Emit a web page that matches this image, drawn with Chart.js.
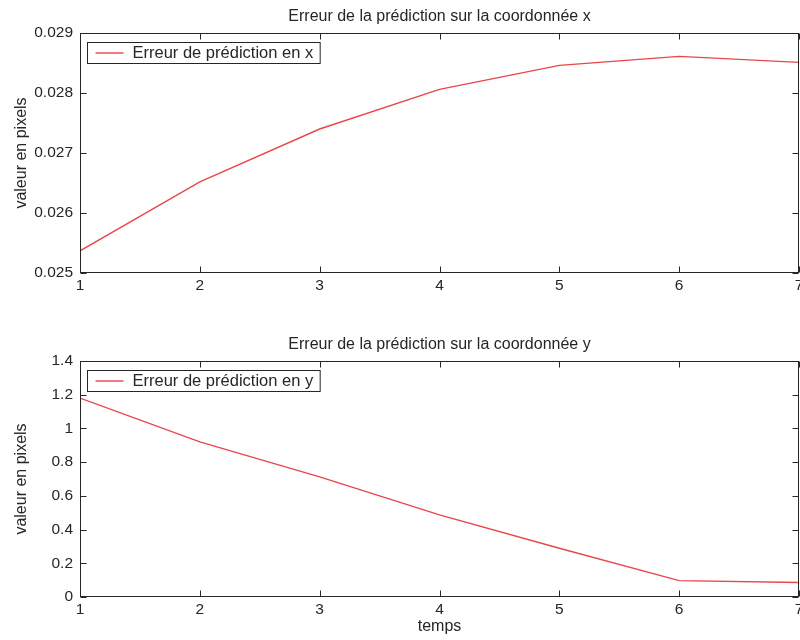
<!DOCTYPE html>
<html>
<head>
<meta charset="utf-8">
<script src="https://cdn.jsdelivr.net/npm/chart.js@4/dist/chart.umd.min.js"></script>
<style>
  html, body { margin: 0; padding: 0; background: #fff; width: 800px; height: 640px; overflow: hidden; }
  .panel { position: absolute; left: 0; width: 822px; }
  #top { top: 0; height: 300px; }
  #bottom { top: 300px; height: 340px; }
</style>
</head>
<body>
<div class="panel" id="top"><canvas id="cx"></canvas></div>
<div class="panel" id="bottom"><canvas id="cy"></canvas></div>
<script>
// Time steps and prediction errors (pixels)
const temps = [1, 2, 3, 4, 5, 6, 7];
const erreurX = [0.02537, 0.02652, 0.02740, 0.02806, 0.02846, 0.02861, 0.02851];
const erreurY = [1.18, 0.92, 0.713, 0.487, 0.289, 0.097, 0.086];

// Axis tick values
const ticksTemps = [1, 2, 3, 4, 5, 6, 7];
const ticksX = [0.025, 0.026, 0.027, 0.028, 0.029];
const ticksY = [0, 0.2, 0.4, 0.6, 0.8, 1, 1.2, 1.4];

const titreX = 'Erreur de la prédiction sur la coordonnée x';
const titreY = 'Erreur de la prédiction sur la coordonnée y';
const legendeX = 'Erreur de prédiction en x';
const legendeY = 'Erreur de prédiction en y';

const FONT = '"Liberation Sans", Arial, Helvetica, sans-serif';
const INK = '#262626';
const RED = '#e8464c';

// Box frame with inward ticks on all four sides, title and in-axes legend
const matlabFrame = {
  id: 'matlabFrame',
  afterDatasetsDraw(chart, args, opts) {
    const { ctx, chartArea: a, scales: { x, y } } = chart;
    ctx.save();
    ctx.strokeStyle = INK;
    ctx.lineWidth = 1;
    const L = Math.round(a.left) + 0.5, R = Math.round(a.right) - 0.5;
    const T = Math.round(a.top) + 0.5, B = Math.round(a.bottom) - 0.5;
    ctx.strokeRect(L, T, R - L, B - T);
    const tl = 6;
    ctx.beginPath();
    x.ticks.forEach(t => {
      const px = Math.round(x.getPixelForValue(t.value)) + 0.5;
      ctx.moveTo(px, B); ctx.lineTo(px, B - tl);
      ctx.moveTo(px, T); ctx.lineTo(px, T + tl);
    });
    y.ticks.forEach(t => {
      const py = Math.round(y.getPixelForValue(t.value)) + 0.5;
      ctx.moveTo(L, py); ctx.lineTo(L + tl, py);
      ctx.moveTo(R, py); ctx.lineTo(R - tl, py);
    });
    ctx.stroke();

    // title above the axes
    ctx.fillStyle = INK;
    ctx.font = '16px ' + FONT;
    ctx.textAlign = 'center';
    ctx.textBaseline = 'middle';
    ctx.fillText(opts.title, (a.left + a.right) / 2, a.top - 16);

    // legend box in the upper-left corner
    const ds = chart.data.datasets[0];
    ctx.font = '16.5px ' + FONT;
    const tw = ctx.measureText(ds.label).width;
    const bx = a.left + 7.5, by = a.top + 9.5;
    const bw = 45 + tw + 7, bh = 21;
    ctx.fillStyle = '#fff';
    ctx.fillRect(bx, by, bw, bh);
    ctx.strokeStyle = INK;
    ctx.strokeRect(bx, by, bw, bh);
    ctx.strokeStyle = ds.borderColor;
    ctx.lineWidth = ds.borderWidth;
    ctx.beginPath();
    ctx.moveTo(bx + 8, by + bh / 2);
    ctx.lineTo(bx + 36, by + bh / 2);
    ctx.stroke();
    ctx.fillStyle = INK;
    ctx.textAlign = 'left';
    ctx.fillText(ds.label, bx + 45, by + bh / 2 + 0.5);
    ctx.restore();
  }
};

function fmt(v) { return String(+v.toFixed(4)); }

function makeChart(id, values, label, title, yTicks, opts) {
  return new Chart(document.getElementById(id), {
    type: 'line',
    data: {
      datasets: [{
        label: label,
        data: temps.map((t, i) => ({ x: t, y: values[i] })),
        borderColor: RED,
        borderWidth: 1.4,
        pointRadius: 0,
        tension: 0,
        fill: false
      }]
    },
    options: {
      responsive: true,
      maintainAspectRatio: false,
      animation: false,
      events: [],
      layout: { padding: { top: opts.top, right: 23, left: 0, bottom: 0 } },
      plugins: {
        legend: { display: false },
        tooltip: { enabled: false },
        matlabFrame: { title: title }
      },
      scales: {
        x: {
          type: 'linear',
          min: 1, max: 7,
          grid: { display: false, drawTicks: false },
          border: { display: false },
          afterBuildTicks: s => { s.ticks = ticksTemps.map(v => ({ value: v })); },
          afterFit: s => { s.height = opts.xh; },
          ticks: { color: INK, font: { family: FONT, size: 15.5 }, padding: 3, maxRotation: 0, callback: fmt },
          title: opts.xTitle ? { display: true, text: opts.xTitle, color: INK, font: { family: FONT, size: 16 }, padding: { top: 0, bottom: 4 } } : { display: false }
        },
        y: {
          type: 'linear',
          min: yTicks[0], max: yTicks[yTicks.length - 1],
          grid: { display: false, drawTicks: false },
          border: { display: false },
          afterBuildTicks: s => { s.ticks = yTicks.map(v => ({ value: v })); },
          afterFit: s => { s.width = 80; },
          ticks: { color: INK, font: { family: FONT, size: 15.5 }, padding: 7, callback: fmt },
          title: { display: true, text: 'valeur en pixels', color: INK, font: { family: FONT, size: 16 }, padding: { top: 12, bottom: 0 } }
        }
      }
    },
    plugins: [matlabFrame]
  });
}

makeChart('cx', erreurX, legendeX, titreX, ticksX, { top: 33, xh: 27 });
makeChart('cy', erreurY, legendeY, titreY, ticksY, { top: 61, xh: 43, xTitle: 'temps' });
</script>
</body>
</html>
